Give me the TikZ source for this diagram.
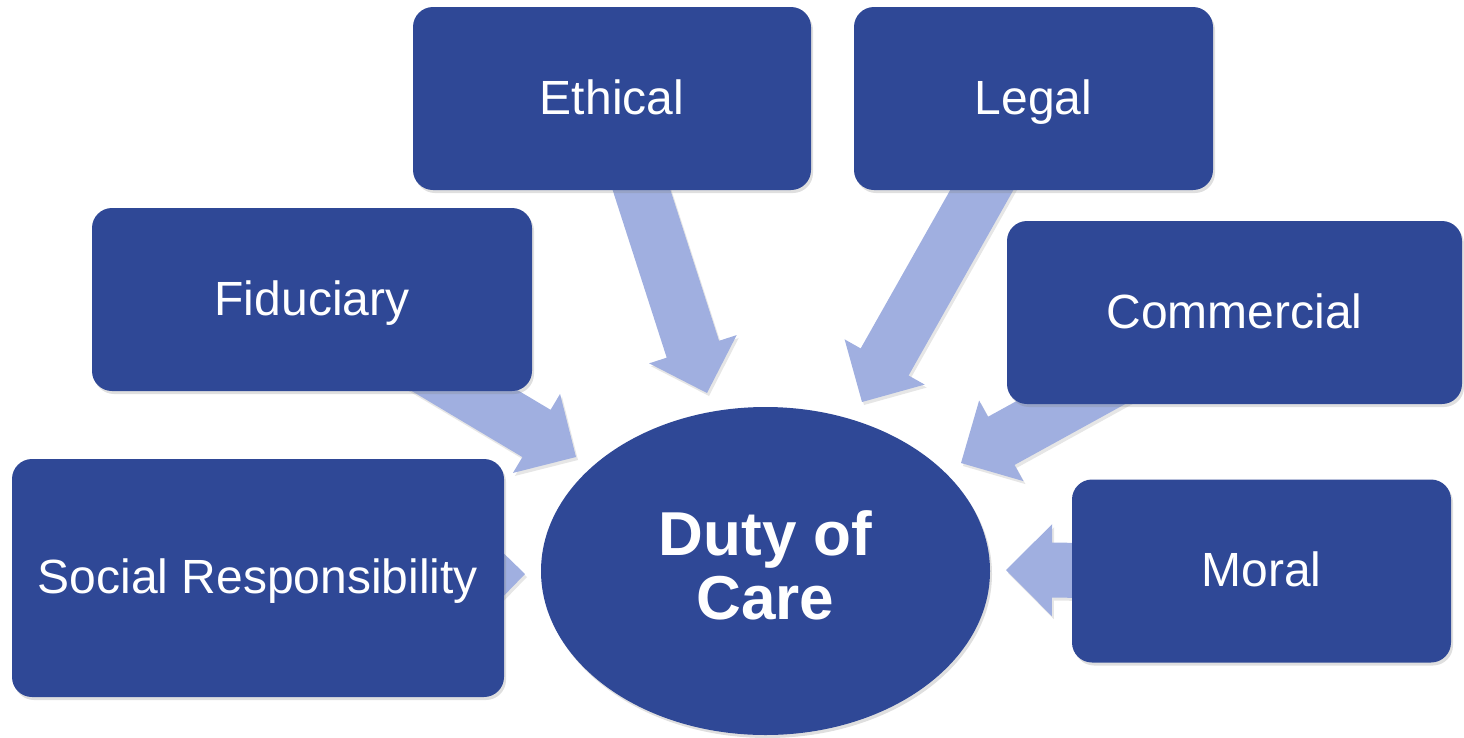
\documentclass[tikz,border=0pt]{standalone}
\usepackage{fontspec}
\setmainfont{Liberation Sans}
\usetikzlibrary{calc,shapes.geometric,shadows,backgrounds}
\definecolor{boxblue}{RGB}{47,72,150}
\definecolor{arrowblue}{RGB}{160,175,224}

\begin{document}
\begin{tikzpicture}[x=1pt, y=-1pt,
box/.style={rectangle, rounded corners=20pt, fill=boxblue, text=white, inner sep=0pt,
      minimum height=183pt, text height=31pt, text depth=0pt,
      font=\fontsize{48}{56}\selectfont,
      drop shadow={shadow xshift=2pt, shadow yshift=-3pt, opacity=0.25}},
core/.style={ellipse, fill=boxblue, text=white, inner sep=0pt, align=center,
      minimum width=449pt, minimum height=328pt,
      font=\fontsize{62}{64}\selectfont\bfseries,
      drop shadow={shadow xshift=2pt, shadow yshift=-3pt, opacity=0.25}},
pointer/.style={fill=arrowblue, drop shadow={shadow xshift=2pt, shadow yshift=-3pt, opacity=0.2}}]
 \useasboundingbox (0,0) rectangle (1464,737);

 \node[core] (duty) at (765.5,571) {Duty of\\Care\rule[-11pt]{0pt}{0pt}};
 \node[box, minimum width=398pt] (ethical) at (612,98.5) {Ethical};
 \node[box, minimum width=359pt] (legal) at (1033.5,98.5) {Legal};
 \node[box, minimum width=440pt] (fiduciary) at (312,299.5) {Fiduciary};
 \node[box, minimum width=455pt] (commercial) at (1234.5,312.5) {Commercial};
 \node[box, minimum width=379pt, right of=duty, node distance=496pt] (moral) {Moral};
 \node[box, minimum width=492pt, minimum height=238pt] (social) at (258,578) {Social Responsibility};

 \coordinate (ethical-tip) at (707,393);
 \coordinate (legal-tip) at (862,402);
 \coordinate (fiduciary-tip) at (576,457);
 \coordinate (commercial-tip) at (961,463);
 \coordinate (moral-tip) at (1006,570);
 \coordinate (social-tip) at (525,574);

 \begin{scope}[on background layer]
 \foreach \src in {ethical, legal, fiduciary, commercial, moral, social}{
   \coordinate (head) at ($(\src-tip)!46pt!(\src.center)$);
   \fill[pointer] ($(\src.center)!27.5pt!90:(\src-tip)$) -- ($(head)!27.5pt!90:(\src-tip)$)
     -- ($(head)!46pt!90:(\src-tip)$) -- (\src-tip) -- ($(head)!46pt!-90:(\src-tip)$)
     -- ($(head)!27.5pt!-90:(\src-tip)$) -- ($(\src.center)!27.5pt!-90:(\src-tip)$) -- cycle;
 }
 \end{scope}
\end{tikzpicture}
\end{document}
